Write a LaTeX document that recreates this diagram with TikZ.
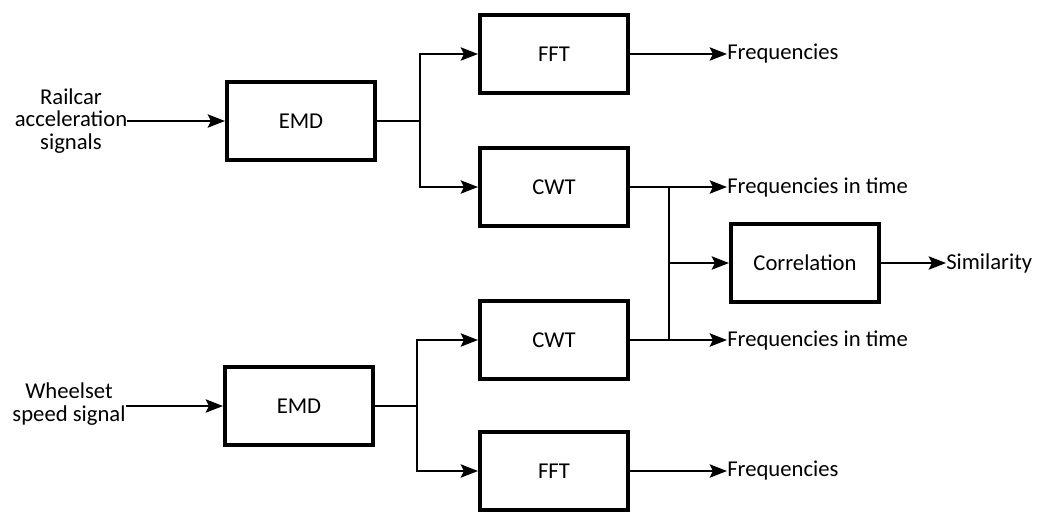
\documentclass[tikz,border=0pt]{standalone}
\usepackage{fontspec}
\setmainfont{Carlito}
\usepackage{tikz}
\usetikzlibrary{positioning, arrows.meta}
\tikzset{
  block/.style={rectangle, draw=black, line width=3pt, minimum width=111pt,
                minimum height=59pt, align=center},
  lbl/.style={align=center, inner sep=0pt},
  arr/.style={-{Stealth[length=13pt, width=10pt, inset=2.5pt]}, line width=1.5pt},
  wire/.style={line width=1.5pt},
}

\begin{document}
\begin{tikzpicture}[x=0.75pt, y=-0.75pt,
                    every node/.style={font=\fontsize{17}{17}\selectfont}]
    \useasboundingbox (0,0) rectangle (1046,512);
    % upper branch: railcar signals
    \node[lbl] (rail) at (71,121) {Railcar\\acceleration\\signals};
    \node[block] (emd1) at (301,121) {EMD};
    \node[block] (fft1) at (554,54) {FFT};
    \node[block] (cwt1) at (554,187) {CWT};
    % lower branch: wheelset speed
    \node[lbl] (wheel) at (69,404) {Wheelset\\speed signal};
    \node[block] (emd2) at (299,406) {EMD};
    \node[block] (cwt2) at (554,340) {CWT};
    \node[block] (fft2) at (554,471) {FFT};
    \node[block] (corr) at (805,263) {Correlation};
    % outputs
    \node[lbl, anchor=west] (freq1) at (727,54) {Frequencies};
    \node[lbl, anchor=west] (fit1) at (727,187) {Frequencies in time};
    \node[lbl, anchor=west] (fit2) at (727,340) {Frequencies in time};
    \node[lbl, anchor=west] (freq2) at (727,471) {Frequencies};
    \node[lbl, anchor=west] (sim) at (946,263) {Similarity};
    % junctions
    \coordinate (j1) at (420,121);
    \coordinate (j2) at (417,406);
    \coordinate (k1) at (669,187);
    \coordinate (k2) at (669,340);
    \coordinate (k3) at (669,263);
    \draw[arr] (rail.east) -- (emd1.west);
    \draw[arr] (wheel.east |- emd2) -- (emd2.west);
    \draw[wire] (emd1.east) -- (j1);
    \draw[arr] (j1) |- (fft1.west);
    \draw[arr] (j1) |- (cwt1.west);
    \draw[wire] (emd2.east) -- (j2);
    \draw[arr] (j2) |- (cwt2.west);
    \draw[arr] (j2) |- (fft2.west);
    \draw[arr] (fft1.east) -- (freq1.west);
    \draw[arr] (cwt1.east) -- (fit1.west);
    \draw[arr] (cwt2.east) -- (fit2.west);
    \draw[arr] (fft2.east) -- (freq2.west);
    \draw[wire] (k1) -- (k2);
    \draw[arr] (k3) -- (corr.west);
    \draw[arr] (corr.east) -- (sim.west);
\end{tikzpicture}
\end{document}
